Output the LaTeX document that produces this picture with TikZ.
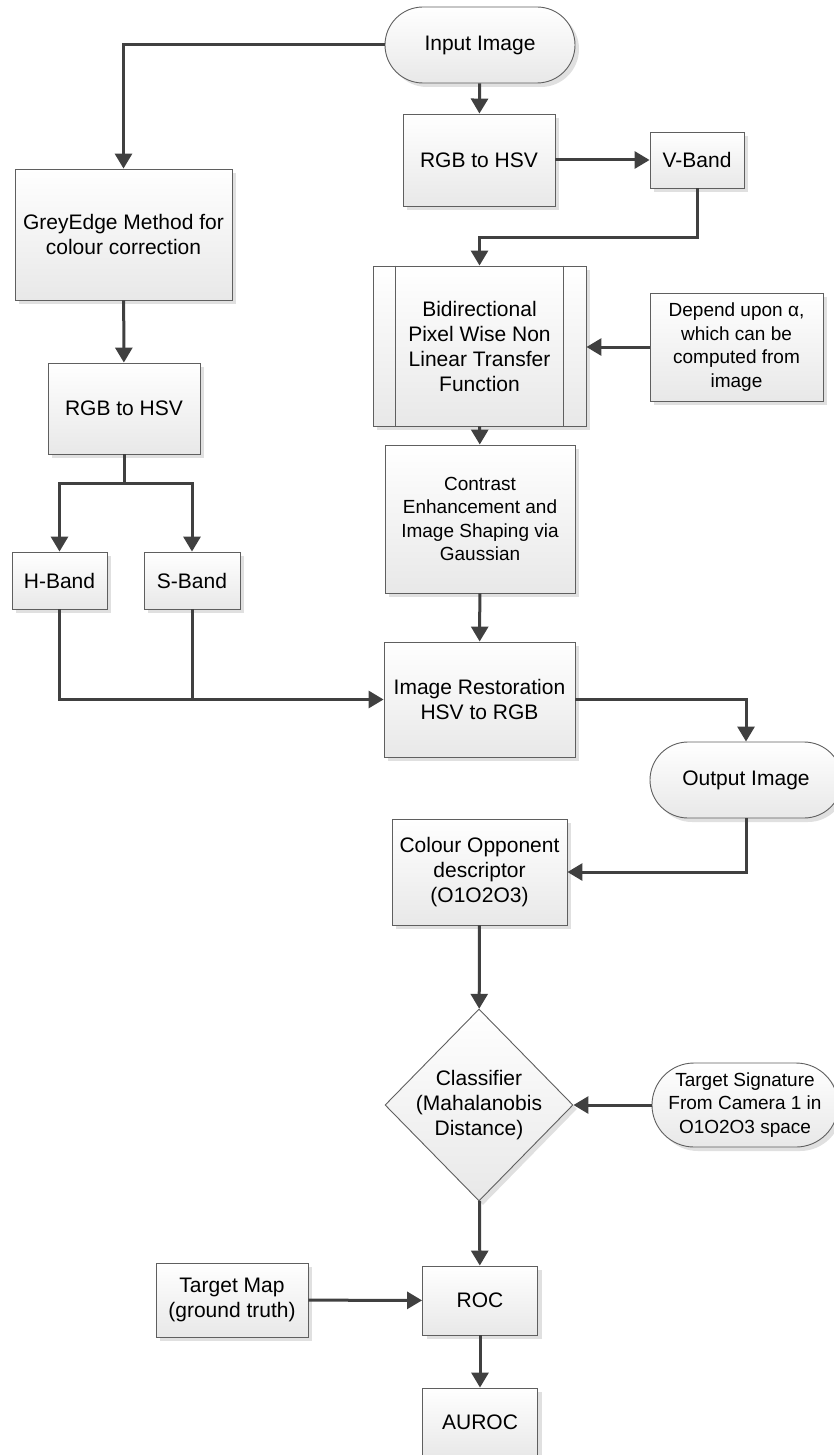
\documentclass[tikz,border=0pt]{standalone}
\usepackage{fontspec}
\setmainfont{Liberation Sans}
\usepackage{xcolor}
\usepackage{tikz}
\usetikzlibrary{arrows.meta,positioning,shapes.geometric,shapes.misc,shadows,calc}
\definecolor{linegrey}{RGB}{64,64,64}
\definecolor{edgegrey}{RGB}{95,95,95}
\newcommand{\bigtxt}{\fontsize{21pt}{25pt}\selectfont}
\newcommand{\smalltxt}{\fontsize{19pt}{23.5pt}\selectfont}
\tikzset{
  base/.style={draw=edgegrey, line width=0.9pt, top color=white, bottom color=black!9, align=center, inner sep=0pt, font=\bigtxt,
    drop shadow={shadow xshift=4pt, shadow yshift=-4pt, fill=black!12, opacity=1}},
  box/.style={base, rectangle},
  term/.style={base, rounded rectangle},
  decide/.style={base, diamond},
  line/.style={-{Triangle[length=15pt,width=17pt]}, line width=3pt, draw=linegrey},
  plain/.style={line width=3pt, draw=linegrey}
}
\begin{document}
\begin{tikzpicture}[x=1pt,y=-1pt]
    \useasboundingbox (0,0) rectangle (833,1455);
    % right column
    \node[term, minimum width=190pt, minimum height=76pt] (inimg) at (480,45) {Input Image};
    \node[box, minimum width=152pt, minimum height=92pt] (rgbr) at (479,160) {RGB to HSV};
    \node[box, minimum width=94pt, minimum height=56pt] (vband) at (697,160) {V-Band};
    \node[box, minimum width=213pt, minimum height=160pt] (bidir) at (479.5,346) {Bidirectional\\Pixel Wise Non\\Linear Transfer\\Function};
    \draw[edgegrey, line width=0.9pt] ($(bidir.north west)+(23,0)$) -- ($(bidir.south west)+(23,0)$);
    \draw[edgegrey, line width=0.9pt] ($(bidir.north east)+(-23,0)$) -- ($(bidir.south east)+(-23,0)$);
    \node[box, minimum width=173pt, minimum height=108pt, font=\smalltxt] (depend) at (736.5,347) {Depend upon α,\\which can be\\computed from\\image};
    \node[box, minimum width=190pt, minimum height=148pt, font=\smalltxt] (contrast) at (480,519) {Contrast\\Enhancement and\\Image Shaping via\\Gaussian};
    \node[box, minimum width=191pt, minimum height=115pt] (restore) at (479.5,699.5) {Image Restoration\\HSV to RGB};
    \node[term, minimum width=192pt, minimum height=76pt] (outimg) at (746,780) {Output Image};
    \node[box, minimum width=175pt, minimum height=106pt] (colour) at (479.5,872) {Colour Opponent\\descriptor\\(O1O2O3)};
    \node[decide, minimum width=188pt, minimum height=192pt] (classif) at (479,1105) {\makebox[100pt]{\begin{tabular}{@{}c@{}}Classifier\\(Mahalanobis\\Distance)\end{tabular}}};
    \node[term, minimum width=186pt, minimum height=84pt, font=\smalltxt] (target) at (745,1105) {Target Signature\\From Camera 1 in\\O1O2O3 space};
    \node[box, minimum width=115pt, minimum height=69pt] (roc) at (480,1300.5) {ROC};
    \node[box, minimum width=115pt, minimum height=69pt] (auroc) at (480,1422.5) {AUROC};
    \node[box, minimum width=152pt, minimum height=74pt] (tmap) at (232,1300) {Target Map\\(ground truth)};
    % left column
    \node[box, minimum width=217pt, minimum height=131pt] (grey) at (123.5,234.5) {GreyEdge Method for\\colour correction};
    \node[box, minimum width=152pt, minimum height=91pt] (rgbl) at (124,408.5) {RGB to HSV};
    \node[box, minimum width=95pt, minimum height=57pt] (hband) at (59.5,580.5) {H-Band};
    \node[box, minimum width=96pt, minimum height=57pt] (sband) at (192,580.5) {S-Band};
    % connectors
    \draw[line] (inimg) -- (rgbr);
    \draw[line] (inimg.west) -| (grey.north);
    \draw[line] (rgbr) -- (vband);
    \draw[line] (vband.south) -- ++(0,49) -| (bidir.north);
    \draw[line] (depend.west) -- (depend.west -| bidir.east);
    \draw[line] (bidir) -- (contrast);
    \draw[line] (grey) -- (rgbl);
    \draw[plain] (rgbl.south) -- ++(0,29) coordinate (split);
    \draw[line] (split) -| (hband.north);
    \draw[line] (split) -| (sband.north);
    \draw[line] (hband.south) |- (restore.west);
    \draw[plain] (sband.south) -- (sband.south |- restore.west);
    \draw[line] (contrast) -- (restore);
    \draw[line] (restore.east) -| (outimg.north);
    \draw[line] (outimg.south) |- (colour.east);
    \draw[line] (colour) -- (classif);
    \draw[line] (target) -- (classif);
    \draw[line] (classif) -- (roc);
    \draw[line] (tmap) -- (roc);
    \draw[line] (roc) -- (auroc);
  \end{tikzpicture}
\end{document}
